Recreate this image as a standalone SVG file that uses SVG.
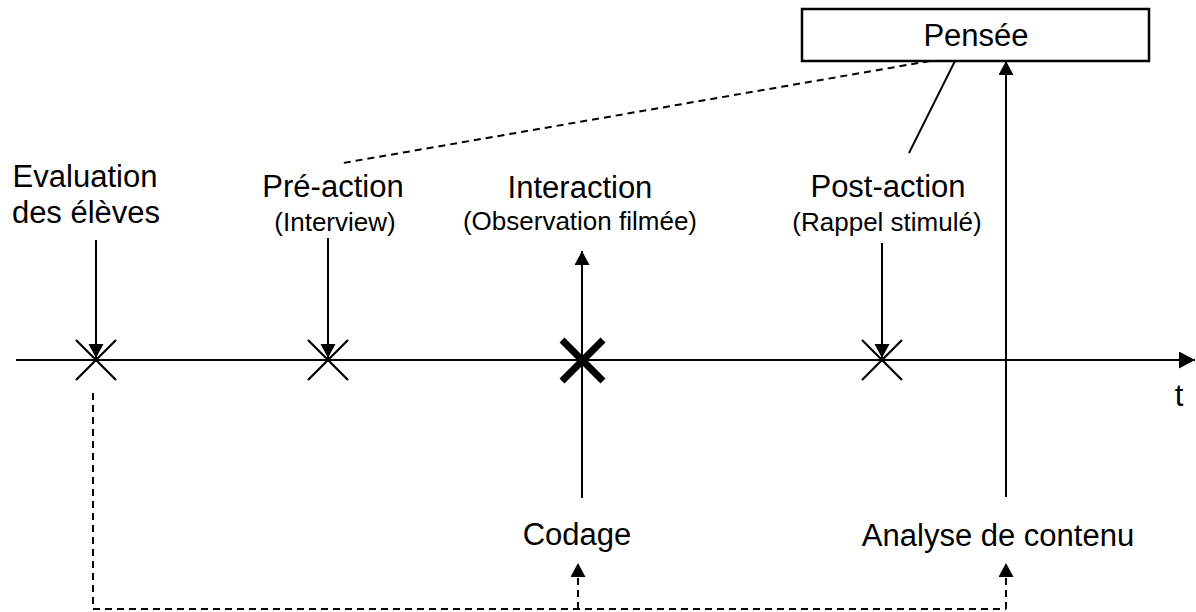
<svg xmlns="http://www.w3.org/2000/svg" width="1196" height="612" viewBox="0 0 1196 612">
<style>
text{font-family:"Liberation Sans",Arial,sans-serif;fill:#000;text-anchor:middle}
.main{font-size:31px}
.sub{font-size:26px}
.ln{stroke:#000;stroke-width:2;fill:none}
.dash{stroke:#000;stroke-width:2;fill:none;stroke-dasharray:7 5}
.x{stroke:#000;stroke-width:2.2;fill:none}
.xb{stroke:#000;stroke-width:7;fill:none}
</style>
<defs>
<marker id="arr" markerUnits="userSpaceOnUse" markerWidth="16" markerHeight="16" refX="14" refY="7.5" orient="auto" viewBox="0 0 16 16">
<path d="M0,0 L14,7.5 L0,15 z" fill="#000"/>
</marker>
<marker id="arrBig" markerUnits="userSpaceOnUse" markerWidth="18" markerHeight="18" refX="16" refY="8.5" orient="auto" viewBox="0 0 18 18">
<path d="M0,0 L16,8.5 L0,17 z" fill="#000"/>
</marker>
</defs>
<rect width="1196" height="612" fill="#fff"/>

<g id="connectors">
<line class="ln" x1="16" y1="360" x2="1195" y2="360" marker-end="url(#arrBig)"/>
<line class="ln" x1="96" y1="240" x2="96" y2="358" marker-end="url(#arr)"/>
<line class="ln" x1="328" y1="238" x2="328" y2="358" marker-end="url(#arr)"/>
<line class="ln" x1="882" y1="243" x2="882" y2="358" marker-end="url(#arr)"/>
<line class="ln" x1="582" y1="498" x2="582" y2="251" marker-end="url(#arr)"/>
<line class="ln" x1="1006" y1="497" x2="1006" y2="61" marker-end="url(#arr)"/>
<line class="ln" x1="955" y1="61" x2="909" y2="153"/>
<line class="dash" x1="930" y1="61" x2="343" y2="163"/>
<path class="dash" d="M93,393 V609 H1006"/>
<line class="dash" x1="578" y1="609" x2="578" y2="563" marker-end="url(#arr)"/>
<line class="dash" x1="1006" y1="609" x2="1006" y2="563" marker-end="url(#arr)"/>
</g>

<g id="pensee">
<rect x="802" y="9" width="347" height="52" fill="#fff" stroke="#000" stroke-width="2.5"/>
<text class="main" x="976" y="46">Pensée</text>
</g>

<g id="evaluation">
<text class="main" x="85" y="187">Evaluation</text>
<text class="main" x="86" y="223">des élèves</text>
<path class="x" d="M76,340 L116,380 M116,340 L76,380"/>
</g>

<g id="preaction">
<text class="main" x="333" y="197">Pré-action</text>
<text class="sub" x="335" y="231">(Interview)</text>
<path class="x" d="M308,340 L348,380 M348,340 L308,380"/>
</g>

<g id="interaction">
<text class="main" x="580" y="198">Interaction</text>
<text class="sub" x="580" y="230">(Observation filmée)</text>
<path class="xb" d="M562,340 L603,381 M603,340 L562,381"/>
</g>

<g id="postaction">
<text class="main" x="888" y="197">Post-action</text>
<text class="sub" x="887" y="231">(Rappel stimulé)</text>
<path class="x" d="M862,340 L902,380 M902,340 L862,380"/>
</g>

<g id="t-label">
<text class="main" x="1179" y="406">t</text>
</g>

<g id="codage">
<text class="main" x="577" y="545">Codage</text>
</g>

<g id="analyse">
<text class="main" x="998" y="546">Analyse de contenu</text>
</g>
</svg>
